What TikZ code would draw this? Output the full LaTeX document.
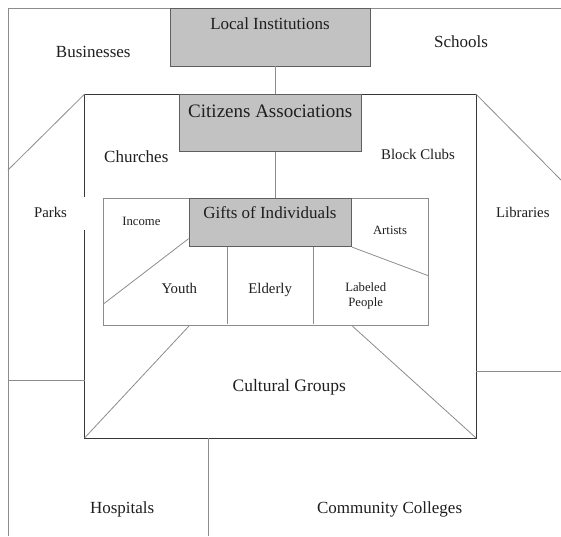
\documentclass[tikz,border=0pt]{standalone}
\usepackage{fontspec}
\setmainfont{Liberation Serif}
\usepackage{tikz}
\usetikzlibrary{positioning}
\definecolor{ink}{RGB}{30,30,30}
\definecolor{rule}{RGB}{140,140,140}
\definecolor{frameline}{RGB}{55,55,55}
\definecolor{boxline}{RGB}{95,95,95}
\definecolor{boxbg}{RGB}{194,194,194}
\tikzset{
  institution/.style={rectangle, draw=boxline, fill=boxbg, line width=0.8pt, inner sep=0pt},
  region/.style={rectangle, inner sep=0pt},
  inner/.style={rectangle, draw=rule, line width=0.8pt, inner sep=0pt},
  asset/.style={font=\fontsize{17}{20}\selectfont, text=ink, inner sep=0pt, text height=11pt, text depth=0pt},
  bigasset/.style={asset, font=\fontsize{19}{22}\selectfont, text height=12.5pt},
  midasset/.style={asset, font=\fontsize{14.8}{17}\selectfont, text height=9.8pt},
  smallasset/.style={asset, font=\fontsize{12.7}{15}\selectfont, text height=8.4pt},
  link/.style={draw=rule, line width=0.8pt},
  edge/.style={draw=frameline, line width=0.8pt},
}
\begin{document}
\begin{tikzpicture}[x=1pt, y=-1pt]
\useasboundingbox (0,0) rectangle (561,536);
% outer field
\coordinate (topleft) at (8,8.5);
\coordinate (topright) at (561,8.5);
\coordinate (bottomleft) at (8,536);
\draw[link] (topright) -- (topleft) -- (bottomleft);

% frames
\node[region, minimum width=391pt, minimum height=343.4pt] (mid) at (280.3,266) {};
\node[inner, minimum width=324.9pt, minimum height=127.4pt] (core) at (265.85,262) {};
\coordinate (gaptop) at (0,197);
\coordinate (gapbottom) at (0,230);
\draw[edge] (mid.north west |- gaptop) -- (mid.north west) -- (mid.north east)
  -- (mid.south east) -- (mid.south west) -- (mid.south west |- gapbottom);

% boxes
\node[institution, minimum width=200pt, minimum height=57.5pt] (local) at (270,37.25) {};
\node[institution, minimum width=181.8pt, minimum height=57.4pt] (citizens) at (270.5,123) {};
\node[institution, minimum width=162.7pt, minimum height=48.4pt] (gifts) at (270.3,222.5) {};
\node[asset] (localtitle) at (270,24) {Local Institutions};
\node[bigasset] (citizenstitle) at (270.3,111.7) {Citizens Associations};
\node[asset] (giftstitle) at (270,213.3) {Gifts of Individuals};

% connectors
\coordinate (spine) at (275.5,0);
\draw[link] (local.south -| spine) -- (mid.north -| spine);
\draw[link] (citizens.south -| spine) -- (core.north -| spine);

% corner cuts
\coordinate (parkscut) at (8,170);
\coordinate (librarycut) at (561,180);
\coordinate (parksfoot) at (8,380);
\coordinate (libraryfoot) at (561,371);
\coordinate (groundfoot) at (208.2,536);
\draw[link] (mid.north west) -- (parkscut);
\draw[link] (mid.north east) -- (librarycut);
\draw[link] (parksfoot) -- (parksfoot -| mid.west);
\draw[link] (libraryfoot -| mid.east) -- (libraryfoot);
\draw[link] (mid.south -| groundfoot) -- (groundfoot);
\draw[link] (core.south -| 188.9,0) -- (mid.south west);
\draw[link] (core.south -| 352.4,0) -- (mid.south east);

% inside the core
\coordinate (incomecut) at (103.4,304);
\coordinate (artistcut) at (428.3,275.7);
\draw[link] ([yshift=8.4pt]gifts.south west) -- (incomecut);
\draw[link] (gifts.south east) -- (artistcut);
\draw[link] (gifts.south -| 227.2,0) -- (227.2,323.5);
\draw[link] (gifts.south -| 313.8,0) -- (313.8,323.5);

% assets
\node[asset] (businesses) at (93.3,51.7) {Businesses};
\node[asset] (schools) at (461,42.3) {Schools};
\node[asset] (churches) at (136.3,156.7) {Churches};
\node[midasset] (blockclubs) at (418,155) {Block Clubs};
\node[midasset] (parks) at (50.5,212.3) {Parks};
\node[midasset] (libraries) at (522.8,212.3) {Libraries};
\node[smallasset] (income) at (141.4,221) {Income};
\node[smallasset] (artists) at (390,230) {Artists};
\node[midasset] (youth) at (179.3,288.3) {Youth};
\node[midasset] (elderly) at (270.2,288.3) {Elderly};
\node[font=\fontsize{12.7}{15}\selectfont, text=ink, inner sep=0pt, align=center] (labeled) at (365.7,296) {Labeled\\People};
\node[asset, font=\fontsize{17.5}{20}\selectfont] (cultural) at (289.3,385.7) {Cultural Groups};
\node[asset] (hospitals) at (122.2,508.3) {Hospitals};
\node[asset] (colleges) at (389.6,508.3) {Community Colleges};
\end{tikzpicture}
\end{document}
